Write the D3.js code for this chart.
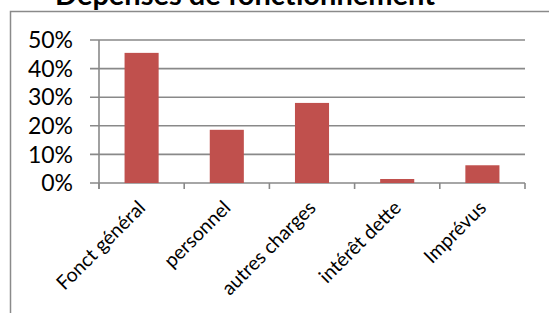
<!DOCTYPE html>
<html><head><meta charset="utf-8">
<script src="https://cdn.jsdelivr.net/npm/d3@7"></script>
<style>body{margin:0;background:#fff;overflow:hidden}svg{display:block}</style>
</head><body>
<svg id="c" width="549" height="313"></svg>
<script>
const title = "Dépenses de fonctionnement";
const categories = ["Fonct général", "personnel", "autres charges", "intérêt dette", "Imprévus"];
const values = [0.455, 0.186, 0.28, 0.014, 0.062];
const yTicks = [0, 0.1, 0.2, 0.3, 0.4, 0.5];

const svg = d3.select("#c");
const font = "Lato, 'Open Sans', sans-serif";
const grid = "#898989";

// chart border
svg.append("path").attr("d", "M10.5,313 V11.5 H549").attr("fill", "none")
  .attr("stroke", "#8a8a8a").attr("stroke-width", 1.5);

svg.append("text").attr("x", 245).attr("y", 5).attr("text-anchor", "middle")
  .attr("font-family", font).attr("font-weight", "bold").attr("font-size", 29)
  .attr("fill", "#000").text(title);

const x = d3.scaleBand().domain(categories).range([99, 525]).paddingInner(0.6).paddingOuter(0.3);
const xb = d3.scaleBand().domain(categories).range([99, 525]);
const y = d3.scaleLinear().domain([0, 0.5]).range([183, 40]);

// gridlines
svg.append("g").selectAll("line").data(yTicks).join("line")
  .attr("x1", 90).attr("x2", 525).attr("y1", d => y(d)).attr("y2", d => y(d))
  .attr("stroke", grid).attr("stroke-width", 1.6);

// y axis line
svg.append("line").attr("x1", 99).attr("x2", 99).attr("y1", y(0.5)).attr("y2", 189)
  .attr("stroke", grid).attr("stroke-width", 1.6);

// category ticks
const bounds = categories.map(c => xb(c)).concat([525]);
svg.append("g").selectAll("line").data(bounds).join("line")
  .attr("x1", d => d).attr("x2", d => d).attr("y1", 183).attr("y2", 189)
  .attr("stroke", grid).attr("stroke-width", 1.6);

// y labels
svg.append("g").selectAll("text").data(yTicks).join("text")
  .attr("x", 73).attr("y", d => y(d)).attr("dy", "0.36em").attr("text-anchor", "end")
  .attr("font-family", font).attr("font-size", 23).attr("fill", "#000")
  .text(d => d3.format(".0%")(d));

// bars
svg.append("g").selectAll("rect").data(values).join("rect")
  .attr("x", (d, i) => x(categories[i])).attr("width", x.bandwidth())
  .attr("y", d => y(d)).attr("height", d => y(0) - y(d))
  .attr("fill", "#C0504D");

// x labels
svg.append("g").selectAll("text").data(categories).join("text")
  .attr("transform", d => `translate(${xb(d) + xb.bandwidth() / 2 + 5},${209}) rotate(-45)`)
  .attr("text-anchor", "end").attr("font-family", font).attr("font-size", 19.5)
  .attr("fill", "#000").text(d => d);
</script>
</body></html>
